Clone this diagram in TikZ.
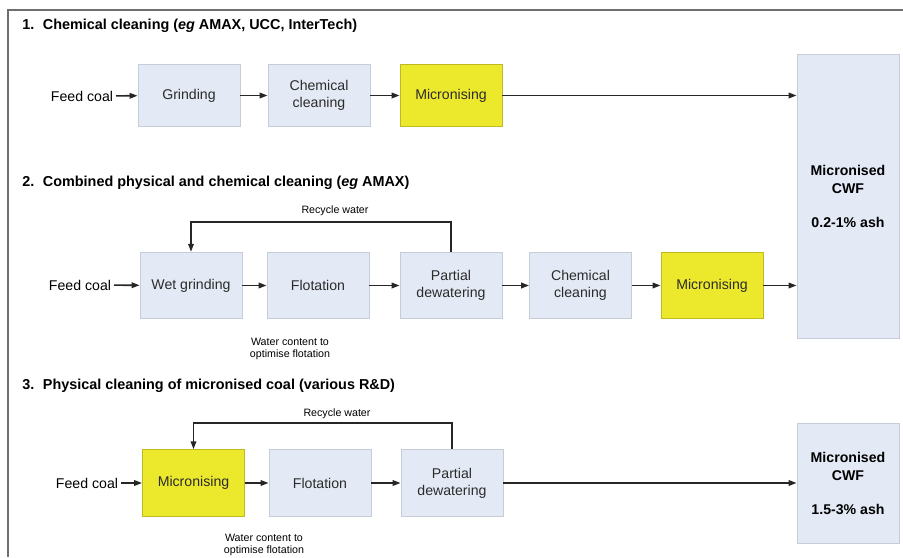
\documentclass[tikz,border=0pt]{standalone}
\usepackage{fontspec}
\setmainfont{Liberation Sans}
\usetikzlibrary{arrows.meta,positioning,calc}
\definecolor{BoxBlue}{HTML}{E3EAF5}
\definecolor{BoxEdge}{HTML}{C6CDD9}
\definecolor{MicroYellow}{HTML}{ECE82C}
\definecolor{FrameGrey}{HTML}{6E6E6E}
\definecolor{BoxText}{HTML}{2B2B2B}

\begin{document}
\begin{tikzpicture}[x=0.75pt,y=-0.75pt,
  proc/.style={rectangle,draw=BoxEdge,fill=BoxBlue,line width=0.6pt,minimum width=76.5pt,minimum height=50pt,align=center,font=\fontsize{10.6}{12.8}\selectfont,text=BoxText,inner sep=2pt},
  micro/.style={proc,fill=MicroYellow,draw=MicroYellow!80!black},
  product/.style={proc,font=\bfseries\fontsize{10.6}{13.5}\selectfont,text=black},
  flow/.style={-{Triangle[length=6pt,width=4.2pt]},line width=1.2pt,black!85},
  title/.style={anchor=west,font=\bfseries\fontsize{10.8}{13}\selectfont,inner sep=0pt},
  feed/.style={anchor=east,font=\fontsize{10.6}{12.8}\selectfont,inner sep=2pt},
  note/.style={align=center,font=\fontsize{8}{9.5}\selectfont,inner sep=0pt}
]
\useasboundingbox (0,0) rectangle (903,557);
\draw[FrameGrey,line width=1.5pt] (8,557) -- (8,10) -- (903,10);

% products
\node[product,minimum height=213pt] (cwf1) at (848,196) {Micronised\\CWF\\[12pt]0.2-1\% ash};
\node[product,minimum height=90pt] (cwf3) at (848,483) {Micronised\\CWF\\[12pt]1.5-3\% ash};

% 1. chemical cleaning
\node[title] (t1) at (22,26) {1.\hspace{0.6em}Chemical cleaning (\textit{eg} AMAX, UCC, InterTech)};
\node[feed] (feed1) at (116,96) {Feed coal};
\node[proc,minimum height=47pt] (grind1) at (189,95.5) {Grinding};
\node[proc,minimum height=47pt] (chem1) at (319,95.5) {Chemical\\cleaning};
\node[micro,minimum height=47pt] (micro1) at (451,95.5) {Micronising};
\draw[flow] (feed1) -- (grind1);
\draw[flow] (grind1) -- (chem1);
\draw[flow] (chem1) -- (micro1);
\draw[flow] (micro1) -- (micro1 -| cwf1.west);

% 2. combined physical and chemical cleaning
\node[title] (t2) at (22,183) {2.\hspace{0.6em}Combined physical and chemical cleaning (\textit{eg} AMAX)};
\node[feed] (feed2) at (114,285) {Feed coal};
\node[proc] (wet2) at (191,285.5) {Wet grinding};
\node[proc] (flot2) at (318,285.5) {Flotation};
\node[proc] (dew2) at (451,285.5) {Partial\\dewatering};
\node[proc] (chem2) at (580.5,285.5) {Chemical\\cleaning};
\node[micro] (micro2) at (712,285.5) {Micronising};
\draw[flow] (feed2) -- (wet2);
\draw[flow] (wet2) -- (flot2);
\draw[flow] (flot2) -- (dew2);
\draw[flow] (dew2) -- (chem2);
\draw[flow] (chem2) -- (micro2);
\draw[flow] (micro2) -- (micro2 -| cwf1.west);
\draw[flow] (dew2.north) -- ++(0,-30) -| (wet2.north);
\node[note] (rec2) at (335,211) {Recycle water};
\node[note] (wat2) at (290,349) {Water content to\\optimise flotation};

% 3. physical cleaning of micronised coal
\node[title] (t3) at (22,386) {3.\hspace{0.6em}Physical cleaning of micronised coal (various R\&D)};
\node[feed] (feed3) at (121,483) {Feed coal};
\node[micro] (micro3) at (193.5,483) {Micronising};
\node[proc] (flot3) at (320,483) {Flotation};
\node[proc] (dew3) at (452,483) {Partial\\dewatering};
\draw[flow] (feed3) -- (micro3);
\draw[flow] (micro3) -- (flot3);
\draw[flow] (flot3) -- (dew3);
\draw[flow] (dew3) -- (cwf3);
\draw[flow] (dew3.north) -- ++(0,-26) -| (micro3.north);
\node[note] (rec3) at (337,414) {Recycle water};
\node[note] (wat3) at (264,545) {Water content to\\optimise flotation};
\end{tikzpicture}
\end{document}
